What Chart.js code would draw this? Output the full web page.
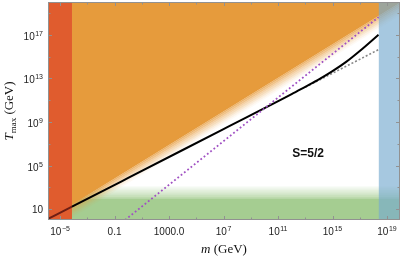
<!DOCTYPE html>
<html><head><meta charset="utf-8">
<script src="https://cdn.jsdelivr.net/npm/chart.js@4/dist/chart.umd.min.js"></script>
<style>html,body{margin:0;padding:0;background:#fff;overflow:hidden}canvas{display:block}</style>
</head><body>
<canvas id="c" width="403" height="261"></canvas>
<script>
// ---------- data ----------
const xRange = [1.3e-6, 9e19];
const yRange = [1, 1e20];

const blackM = [1.3e-6, 7.5e-5, 1, 1e7, 1e12, 1e13, 1e14, 1e15, 1e16, 1e17, 2.4e18];
const blackT = [1.26, 16.6, 7.2e3, 2.2e8, 3.5e11, 1.66e12, 7.9e12, 4.5e13, 3.2e14, 3.2e15, 1.0e17];

const grayM = [1e13, 2.4e18];
const grayT = [1.5e12, 4.3e15];

const purpleM = [0.59, 2.4e18];
const purpleT = [1, 4.1e18];

const orangeEdgeM = [7.5e-5, 9e19];
const orangeEdgeT = [25, 8.5e19];

const greenEdgeM = [7.5e-5, 9e19];
const greenEdgeT = [100, 100];

const redBandM = [1.3e-6, 7.5e-5];
const blueBandM = [2.4e18, 9e19];

const xMajorTicks = [1e-5, 0.1, 1000, 1e7, 1e11, 1e15, 1e19];
const xMajorLabels = [['10', '\u22125'], ['0.1', ''], ['1000.0', ''], ['10', '7'], ['10', '11'], ['10', '15'], ['10', '19']];
const xMinorTicks = [1e-3, 10, 1e5, 1e9, 1e13, 1e17];
const yMajorTicks = [10, 1e5, 1e9, 1e13, 1e17];
const yMajorLabels = [['10', ''], ['10', '5'], ['10', '9'], ['10', '13'], ['10', '17']];
const yMinorTicks = [1e3, 1e7, 1e11, 1e15, 1e19];

const annotationText = 'S=5/2';
const annotationM = 1.6e13;
const annotationT = 1.15e6;

// ---------- styles ----------
const ORANGE = [230, 155, 60];
const GREEN = [165, 205, 145];
const RED = 'rgb(224,92,46)';
const BLUE = 'rgba(118,170,207,0.65)';
const fadeStep = 0.17;
const fadeAlphas = [0.75, 0.6, 0.46, 0.34, 0.23, 0.13, 0.05];
const rgba = (c, a) => `rgba(${c[0]},${c[1]},${c[2]},${a})`;
const pts = (xs, ys) => xs.map((v, i) => ({x: v, y: ys[i]}));

const datasets = [];
function band(points, color, fill, order) {
  datasets.push({data: points, backgroundColor: color, borderWidth: 0, pointRadius: 0, fill, order});
}
// green band + fade
band(pts(greenEdgeM, greenEdgeT), rgba(GREEN, 1), 'start', 6);
fadeAlphas.slice(0, 6).forEach((a, k) => band(pts(greenEdgeM, greenEdgeT.map(t => t * Math.pow(10, (k + 1) * 0.18))), rgba(GREEN, a), '-1', 6));
// orange region + fade
band(pts(orangeEdgeM, orangeEdgeT), rgba(ORANGE, 1), 'end', 5);
fadeAlphas.forEach((a, k) => band(pts(orangeEdgeM, orangeEdgeT.map(t => t / Math.pow(10, (k + 1) * fadeStep))), rgba(ORANGE, a), '-1', 5));
// red band
band(pts(redBandM, redBandM.map(() => yRange[1])), RED, 'start', 4);
// lines
datasets.push({data: pts(grayM, grayT), borderColor: 'rgb(135,135,135)', borderWidth: 1.6, borderDash: [2, 2], pointRadius: 0, fill: false, order: 3});
datasets.push({data: pts(purpleM, purpleT), borderColor: 'rgb(160,80,195)', borderWidth: 1.8, borderDash: [1.8, 2.4], pointRadius: 0, fill: false, order: 2});
datasets.push({data: pts(blackM, blackT), borderColor: '#000', borderWidth: 2, pointRadius: 0, fill: false, order: 2, cubicInterpolationMode: 'monotone',
  segment: {borderColor: c => c.p0.parsed.x < redBandM[1] ? 'rgb(110,30,20)' : '#000'}});
// blue band
band(pts(blueBandM, blueBandM.map(() => yRange[1])), BLUE, 'start', 1);

const SANS = '"Liberation Sans", Arial, sans-serif';
const SERIF = '"Liberation Serif", "Times New Roman", serif';

function supLabel(ctx, base, sup, x, baseline, align) {
  ctx.font = '10px ' + SANS;
  const wb = ctx.measureText(base).width;
  ctx.font = '7px ' + SANS;
  const ws = sup ? ctx.measureText(sup).width + 0.5 : 0;
  const w = wb + ws;
  const left = align === 'center' ? x - w / 2 : x - w;
  ctx.textAlign = 'left';
  ctx.textBaseline = 'alphabetic';
  ctx.font = '10px ' + SANS;
  ctx.fillText(base, left, baseline);
  if (sup) { ctx.font = '7px ' + SANS; ctx.fillText(sup, left + wb + 0.5, baseline - 4); }
}

const framePlugin = {
  id: 'frame',
  afterDatasetsDraw(chart) {
    const {ctx, chartArea: a, scales: {x, y}} = chart;
    ctx.save();
    ctx.strokeStyle = 'rgb(145,145,145)';
    ctx.lineWidth = 1;
    ctx.strokeRect(a.left + 0.5, a.top + 0.5, a.right - a.left - 1, a.bottom - a.top - 1);
    const line = (x1, y1, x2, y2) => { ctx.beginPath(); ctx.moveTo(x1, y1); ctx.lineTo(x2, y2); ctx.stroke(); };
    const xt = (v, len) => { const p = Math.round(x.getPixelForValue(v)) + 0.5; line(p, a.bottom, p, a.bottom - len); line(p, a.top, p, a.top + len); };
    const yt = (v, len) => { const p = Math.round(y.getPixelForValue(v)) + 0.5; line(a.left, p, a.left + len, p); line(a.right, p, a.right - len, p); };
    xMajorTicks.forEach(v => xt(v, 4));
    xMinorTicks.forEach(v => xt(v, 2.5));
    yMajorTicks.forEach(v => yt(v, 4));
    yMinorTicks.forEach(v => yt(v, 2.5));
    // tick labels
    ctx.fillStyle = '#222';
    xMajorTicks.forEach((v, i) => supLabel(ctx, xMajorLabels[i][0], xMajorLabels[i][1], x.getPixelForValue(v), a.bottom + 15, 'center'));
    yMajorTicks.forEach((v, i) => {
      const p = y.getPixelForValue(v);
      supLabel(ctx, yMajorLabels[i][0], yMajorLabels[i][1], a.left - 5, p + (yMajorLabels[i][1] ? 5 : 3.5), 'right');
    });
    // axis titles
    ctx.fillStyle = '#111';
    ctx.textBaseline = 'alphabetic';
    ctx.textAlign = 'left';
    ctx.font = 'italic 13px ' + SERIF;
    const wm = ctx.measureText('m').width;
    ctx.font = '13px ' + SERIF;
    const wg = ctx.measureText(' (GeV)').width;
    let cx = (a.left + a.right) / 2 - (wm + wg) / 2;
    ctx.font = 'italic 13px ' + SERIF; ctx.fillText('m', cx, 253);
    ctx.font = '13px ' + SERIF; ctx.fillText(' (GeV)', cx + wm, 253);
    // y title rotated
    ctx.save();
    ctx.translate(13, (a.top + a.bottom) / 2);
    ctx.rotate(-Math.PI / 2);
    ctx.font = 'italic 13px ' + SERIF;
    const wT = ctx.measureText('T').width;
    ctx.font = '9px ' + SERIF;
    const wMax = ctx.measureText('max').width;
    ctx.font = '13px ' + SERIF;
    const wG = ctx.measureText(' (GeV)').width;
    let sx = -(wT + wMax + wG) / 2;
    ctx.font = 'italic 13px ' + SERIF; ctx.fillText('T', sx, 0);
    ctx.font = '9px ' + SERIF; ctx.fillText('max', sx + wT, 3);
    ctx.font = '13px ' + SERIF; ctx.fillText(' (GeV)', sx + wT + wMax, 0);
    ctx.restore();
    // annotation
    ctx.font = 'bold 12px ' + SANS;
    ctx.textAlign = 'center';
    ctx.textBaseline = 'middle';
    ctx.fillStyle = '#111';
    ctx.fillText(annotationText, x.getPixelForValue(annotationM), y.getPixelForValue(annotationT));
    ctx.restore();
  }
};

new Chart(document.getElementById('c'), {
  type: 'line',
  data: {datasets},
  options: {
    responsive: false,
    devicePixelRatio: 1,
    animation: false,
    layout: {padding: {top: 2, right: 3, left: 0, bottom: 0}},
    plugins: {legend: {display: false}, tooltip: {enabled: false}},
    elements: {line: {tension: 0}},
    scales: {
      x: {type: 'logarithmic', min: xRange[0], max: xRange[1], ticks: {display: false}, grid: {display: false}, border: {display: false},
          afterFit: s => { s.height = 41; }},
      y: {type: 'logarithmic', min: yRange[0], max: yRange[1], ticks: {display: false}, grid: {display: false}, border: {display: false},
          afterFit: s => { s.width = 48; }}
    }
  },
  plugins: [framePlugin]
});
</script>
</body></html>
